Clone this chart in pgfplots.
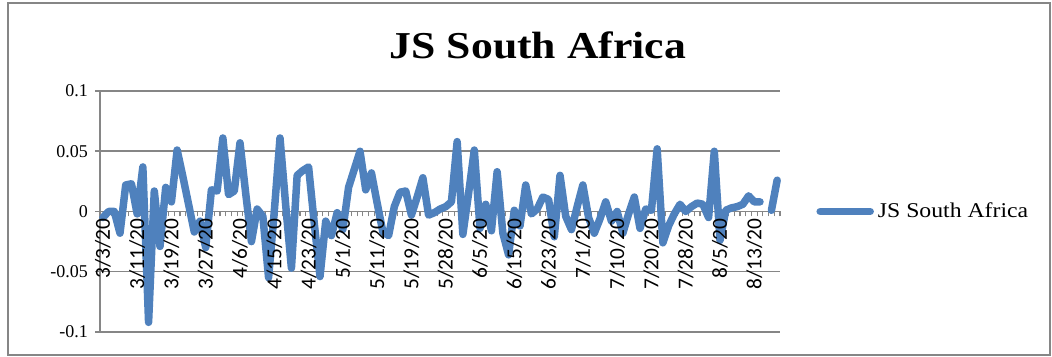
\documentclass[border=0pt]{standalone}
\usepackage{fontspec}
\setmainfont{Liberation Serif}
\newfontfamily\calibri{Carlito}
\usepackage{graphicx}
\usepackage{pgfplots}
\pgfplotsset{compat=1.18}
\usepackage{pgfplotstable}
\definecolor{excelblue}{RGB}{79,129,189}
\definecolor{axisgray}{RGB}{134,134,134}

\pgfplotsset{common/.style={
  at={(50pt,12.5pt)}, anchor=south west,
  scale only axis, width=340pt, height=120.5pt,
  xmin=-0.5, xmax=118.5, ymin=-0.1, ymax=0.1,
  axis x line*=middle, axis y line*=left,
  hide obscured x ticks=false, hide obscured y ticks=false,
  ytick={-0.1,-0.05,0,0.05,0.1},
  xtick={0,6,...,114},
  tick align=outside,
  major tick length=2.5pt, minor tick length=2.5pt,
  xticklabel style={rotate=90, anchor=east, font=\calibri\fontsize{10.7}{12}\selectfont, inner sep=1pt},
  yticklabel style={font=\fontsize{9}{10}\selectfont},
  clip=false,
}}

\pgfplotstableread{
i v
0 -0.005
1 0.000
2 0.000
3 -0.018
4 0.022
5 0.023
6 -0.002
7 0.037
8 -0.092
9 0.017
10 -0.029
11 0.020
12 0.008
13 0.051
14 0.029
15 0.006
16 -0.017
17 -0.008
18 -0.030
19 0.018
20 0.017
21 0.061
22 0.014
23 0.017
24 0.057
25 0.015
26 -0.025
27 0.002
28 -0.004
29 -0.055
30 0.000
31 0.061
32 0.005
33 -0.047
34 0.030
35 0.034
36 0.037
37 -0.010
38 -0.054
39 -0.008
40 -0.020
41 -0.001
42 -0.015
43 0.020
44 0.035
45 0.050
46 0.018
47 0.032
48 0.007
49 -0.017
50 -0.020
51 0.004
52 0.016
53 0.017
54 -0.003
55 0.012
56 0.028
57 -0.003
58 -0.001
59 0.002
60 0.004
61 0.008
62 0.058
63 -0.019
64 0.015
65 0.051
66 -0.014
67 0.006
68 -0.016
69 0.033
70 -0.018
71 -0.036
72 0.001
73 -0.012
74 0.022
75 -0.002
76 0.002
77 0.012
78 0.010
79 -0.021
80 0.030
81 -0.004
82 -0.015
83 0.004
84 0.022
85 -0.005
86 -0.018
87 -0.006
88 0.008
89 -0.008
90 0.000
91 -0.018
92 -0.002
93 0.012
94 -0.014
95 0.002
96 0.001
97 0.052
98 -0.026
99 -0.012
100 -0.002
101 0.006
102 0.000
103 0.004
104 0.007
105 0.006
106 -0.005
107 0.050
108 -0.024
109 0.001
110 0.003
111 0.004
112 0.006
113 0.013
114 0.008
115 0.008
116 nan
117 0.001
118 0.026
}\jsdata

\begin{document}
\begin{tikzpicture}
\useasboundingbox (0,0) rectangle (526pt,178.5pt);
\draw[axisgray, line width=0.75pt] (4pt,1pt) rectangle (525pt,177pt);
\node[anchor=base, font=\bfseries\fontsize{19}{22}\selectfont] at (269pt,149pt) {\scalebox{1.15}[1]{JS South Africa}};
% axis with grid, axis lines, ticks and the series
\begin{axis}[
  common,
  axis line style={draw=axisgray, line width=0.75pt, -},
  xticklabels={}, yticklabels={},
  ymajorgrids,
  grid style={draw=axisgray, line width=0.75pt},
  minor xtick={-0.5,0.5,...,118.5},
  major x tick style={draw=none},
  minor x tick style={draw=axisgray, line width=0.6pt},
  y tick style={draw=axisgray, line width=0.75pt},
  legend style={draw=none, fill=none, at={(1.053,0.5)}, anchor=west, inner sep=0pt, font=\fontsize{10.5}{12}\selectfont},
  legend cell align=left,
  legend image code/.code={\draw[excelblue, line width=3.75pt, line cap=round] (0pt,0pt) -- (25pt,0pt);},
]
\addplot[color=excelblue, line width=3.75pt, line join=round, line cap=round, unbounded coords=jump] table[x=i, y=v] {\jsdata};
\addlegendentry{\scalebox{1.13}[1]{JS South Africa}}
\end{axis}
% overlay axis that sets the tick labels on top of the line
\begin{axis}[
  common,
  axis line style={draw=none},
  tick style={draw=none},
  yticklabels={-0.1,-0.05,0,0.05,0.1},
  xticklabels={3/3/20,3/11/20,3/19/20,3/27/20,4/6/20,4/15/20,4/23/20,5/1/20,5/11/20,5/19/20,5/28/20,6/5/20,6/15/20,6/23/20,7/1/20,7/10/20,7/20/20,7/28/20,8/5/20,8/13/20},
]
\end{axis}
\end{tikzpicture}
\end{document}
